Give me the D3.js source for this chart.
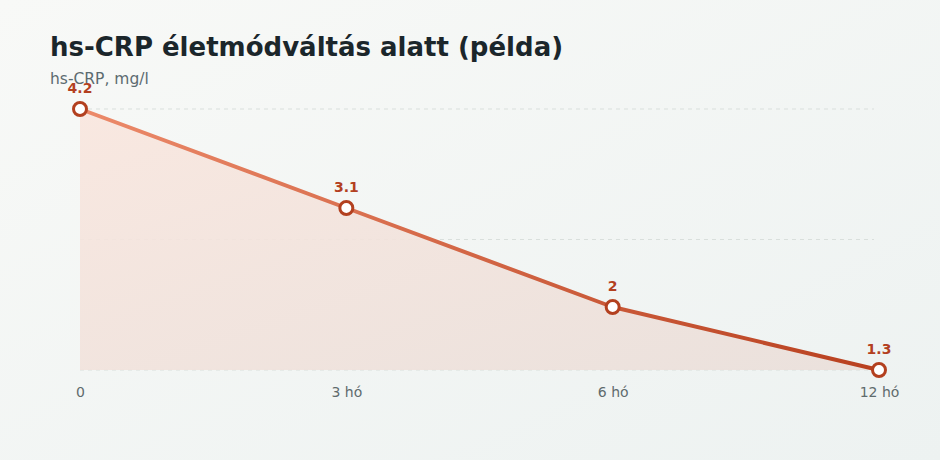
<!DOCTYPE html>
<html>
<head>
<meta charset="utf-8">
<script src="https://cdn.jsdelivr.net/npm/d3@7"></script>
<style>
  html, body { margin: 0; padding: 0; }
  body { width: 940px; height: 460px; overflow: hidden; font-family: "DejaVu Sans", sans-serif; }
</style>
</head>
<body>
<div id="chart"></div>
<script>
// data
var periods = ["0", "3 hó", "6 hó", "12 hó"];
var crpValues = [4.2, 3.1, 2, 1.3];
var titleText = "hs-CRP életmódváltás alatt (példa)";
var subtitleText = "hs-CRP, mg/l";

var width = 940, height = 460;
var margin = { top: 109, right: 61, bottom: 90, left: 80 };

var svg = d3.select("#chart").append("svg")
  .attr("width", width)
  .attr("height", height);

var defs = svg.append("defs");

var bg = defs.append("linearGradient").attr("id", "bg")
  .attr("x1", "0").attr("y1", "0").attr("x2", "1").attr("y2", "1");
bg.append("stop").attr("offset", "0%").attr("stop-color", "#f8f9f7");
bg.append("stop").attr("offset", "100%").attr("stop-color", "#edf2f1");

var lineGrad = defs.append("linearGradient").attr("id", "lineGrad")
  .attr("x1", "0").attr("y1", "0").attr("x2", "1").attr("y2", "0");
lineGrad.append("stop").attr("offset", "0%").attr("stop-color", "#ec8a6a");
lineGrad.append("stop").attr("offset", "100%").attr("stop-color", "#b8401f");

var areaGrad = defs.append("linearGradient").attr("id", "areaGrad")
  .attr("x1", "0").attr("y1", "0").attr("x2", "1").attr("y2", "1");
areaGrad.append("stop").attr("offset", "0%").attr("stop-color", "#f9e6de");
areaGrad.append("stop").attr("offset", "100%").attr("stop-color", "#eadfda");

svg.append("rect")
  .attr("width", width)
  .attr("height", height)
  .attr("fill", "url(#bg)");

svg.append("text")
  .attr("x", 50)
  .attr("y", 56)
  .attr("font-size", 26)
  .attr("font-weight", "bold")
  .attr("fill", "#1b262b")
  .text(titleText);

svg.append("text")
  .attr("x", 50)
  .attr("y", 84)
  .attr("font-size", 15.5)
  .attr("fill", "#5c6b70")
  .text(subtitleText);

var x = d3.scalePoint()
  .domain(periods)
  .range([margin.left, width - margin.right]);

var y = d3.scaleLinear()
  .domain([d3.min(crpValues), d3.max(crpValues)])
  .range([height - margin.bottom, margin.top]);

var data = periods.map(function(p, i) { return { p: p, v: crpValues[i] }; });

// gridlines: min, middle, max
var gridVals = [y.domain()[0], (y.domain()[0] + y.domain()[1]) / 2, y.domain()[1]];
svg.append("g").selectAll("line")
  .data(gridVals)
  .enter().append("line")
  .attr("x1", margin.left)
  .attr("x2", width - margin.right - 5)
  .attr("y1", function(d) { return y(d); })
  .attr("y2", function(d) { return y(d); })
  .attr("stroke", "#d9dfdc")
  .attr("stroke-width", 1)
  .attr("stroke-dasharray", "4,4");

var area = d3.area()
  .x(function(d) { return x(d.p); })
  .y0(y(y.domain()[0]))
  .y1(function(d) { return y(d.v); });

svg.append("path")
  .datum(data)
  .attr("d", area)
  .attr("fill", "url(#areaGrad)")
  .attr("opacity", 0.9);

var line = d3.line()
  .x(function(d) { return x(d.p); })
  .y(function(d) { return y(d.v); });

svg.append("path")
  .datum(data)
  .attr("d", line)
  .attr("fill", "none")
  .attr("stroke", "url(#lineGrad)")
  .attr("stroke-width", 4)
  .attr("stroke-linejoin", "round");

svg.append("g").selectAll("circle")
  .data(data)
  .enter().append("circle")
  .attr("cx", function(d) { return x(d.p); })
  .attr("cy", function(d) { return y(d.v); })
  .attr("r", 6.5)
  .attr("fill", "#ffffff")
  .attr("stroke", "#b3401f")
  .attr("stroke-width", 3);

svg.append("g").selectAll("text")
  .data(data)
  .enter().append("text")
  .attr("x", function(d) { return x(d.p); })
  .attr("y", function(d) { return y(d.v) - 16; })
  .attr("text-anchor", "middle")
  .attr("font-size", 14)
  .attr("font-weight", "bold")
  .attr("fill", "#b3401f")
  .text(function(d) { return d.v; });

var xAxis = svg.append("g")
  .attr("transform", "translate(0," + (height - margin.bottom) + ")")
  .call(d3.axisBottom(x).tickSize(0).tickPadding(17));
xAxis.select(".domain").remove();
xAxis.selectAll("text")
  .attr("font-family", "DejaVu Sans, sans-serif")
  .attr("font-size", 14)
  .attr("fill", "#5f6b6d");
</script>
</body>
</html>
